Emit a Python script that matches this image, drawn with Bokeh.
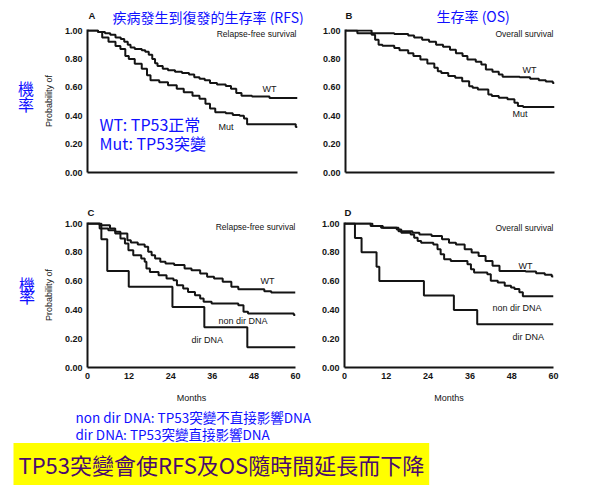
from bokeh.plotting import figure
from bokeh.models import Label, Range1d, FixedTicker, NumeralTickFormatter
from bokeh.layouts import column, row
from bokeh.embed import file_html
from bokeh.resources import INLINE

# ---------------- data (months, survival probability) ----------------
MONTH_TICKS = [0, 12, 24, 36, 48, 60]
PROB_TICKS = [0.0, 0.2, 0.4, 0.6, 0.8, 1.0]

# A: relapse-free survival, WT vs Mut
A_WT_t = [0, 3, 5, 6.5, 8, 9.5, 10.5, 11.5, 12.3, 13.5, 15.5, 16.5, 17.5, 18.5, 19.3, 20, 21.5, 23, 25, 27, 29, 30.5, 32, 33.5, 35, 37, 39.5, 41, 42.5, 44, 47, 52, 60]
A_WT_s = [1.0, 0.99, 0.98, 0.97, 0.95, 0.94, 0.92, 0.90, 0.88, 0.87, 0.86, 0.85, 0.83, 0.80, 0.77, 0.75, 0.73, 0.72, 0.71, 0.70, 0.69, 0.67, 0.66, 0.65, 0.63, 0.62, 0.61, 0.59, 0.56, 0.54, 0.535, 0.525, 0.525]
A_MUT_t = [0, 3, 4.2, 6, 8, 9.4, 10.8, 11.8, 13.5, 15.5, 17, 18, 20.5, 23, 25.5, 27.5, 30, 32, 33.7, 35, 36.5, 39.5, 41.5, 43.5, 44.7, 45.6, 59.5, 60]
A_MUT_s = [1.0, 0.99, 0.95, 0.92, 0.89, 0.87, 0.82, 0.80, 0.765, 0.73, 0.685, 0.65, 0.635, 0.615, 0.59, 0.565, 0.54, 0.52, 0.485, 0.45, 0.425, 0.418, 0.405, 0.40, 0.38, 0.34, 0.32, 0.32]

# B: overall survival, WT vs Mut
B_WT_t = [0, 3.4, 14, 18, 19.7, 22, 24, 26, 28, 30, 31.7, 33.6, 35, 37.4, 39, 40.3, 42.2, 44, 45.1, 50, 53, 55.5, 57.5, 59.5, 60]
B_WT_s = [1.0, 0.98, 0.975, 0.965, 0.95, 0.935, 0.92, 0.90, 0.885, 0.865, 0.84, 0.82, 0.795, 0.78, 0.76, 0.725, 0.71, 0.69, 0.675, 0.67, 0.66, 0.65, 0.64, 0.63, 0.63]
B_MUT_t = [0, 7.5, 8.5, 9.5, 10.6, 14, 15.5, 18, 19.5, 21.5, 23.5, 25.5, 26.5, 27.5, 29.5, 31.5, 33.5, 35.5, 36.5, 38, 41, 42, 44, 46.5, 48.5, 49.5, 51, 60]
B_MUT_s = [1.0, 0.97, 0.935, 0.90, 0.893, 0.876, 0.86, 0.84, 0.82, 0.795, 0.767, 0.737, 0.713, 0.70, 0.68, 0.667, 0.643, 0.608, 0.597, 0.585, 0.55, 0.538, 0.527, 0.515, 0.492, 0.469, 0.462, 0.462]

# C: relapse-free survival, WT / non dir DNA / dir DNA
C_WT_t = [0, 3.5, 6.5, 8, 9.5, 11.5, 12.5, 14.5, 16.5, 17.5, 18.5, 19.5, 21, 22.5, 25, 28, 30, 32.5, 34.5, 36.5, 39, 41.5, 43.5, 51, 53, 60]
C_WT_s = [1.0, 0.988, 0.965, 0.942, 0.931, 0.884, 0.868, 0.854, 0.838, 0.803, 0.78, 0.757, 0.734, 0.722, 0.711, 0.688, 0.676, 0.653, 0.63, 0.618, 0.595, 0.56, 0.544, 0.53, 0.52, 0.52]
C_ND_t = [0, 3.5, 6, 8, 9.5, 10.8, 11.8, 13.2, 15.5, 16.5, 17, 18, 20.5, 22.8, 24.8, 25.8, 27.6, 29, 31, 32.5, 33.5, 35.8, 43.5, 45, 46.3, 59.5, 60]
C_ND_s = [1.0, 0.965, 0.954, 0.931, 0.896, 0.861, 0.815, 0.78, 0.757, 0.734, 0.688, 0.664, 0.641, 0.618, 0.606, 0.572, 0.549, 0.525, 0.502, 0.479, 0.456, 0.444, 0.433, 0.387, 0.375, 0.365, 0.365]
C_DIR_t = [0, 4.0, 5.7, 11.9, 24.5, 33.7, 46.1, 60]
C_DIR_s = [1.0, 0.89, 0.67, 0.56, 0.42, 0.28, 0.14, 0.14]

# D: overall survival, WT / non dir DNA / dir DNA
D_WT_t = [0, 7.5, 11, 15.5, 19.5, 21.5, 25, 28, 30, 32, 34.5, 36.5, 38.5, 40.5, 42.5, 44.5, 52, 55, 57.5, 59.5, 60]
D_WT_s = [1.0, 0.982, 0.97, 0.947, 0.936, 0.924, 0.913, 0.89, 0.867, 0.855, 0.821, 0.798, 0.775, 0.74, 0.706, 0.671, 0.666, 0.655, 0.645, 0.632, 0.632]
D_ND_t = [0, 8, 10.5, 15, 16.3, 19, 20, 21, 22, 25.5, 26.7, 27.6, 28.6, 30.5, 35.3, 36.3, 37.2, 41, 42, 44, 46, 47.8, 48.8, 50.2, 51.2, 60]
D_ND_s = [1.0, 0.982, 0.97, 0.959, 0.936, 0.924, 0.901, 0.878, 0.867, 0.855, 0.821, 0.786, 0.752, 0.74, 0.717, 0.683, 0.66, 0.648, 0.602, 0.591, 0.568, 0.556, 0.545, 0.522, 0.494, 0.494]
D_DIR_t = [0, 3.0, 4.9, 9.2, 10.0, 22.8, 31.4, 38.1, 60]
D_DIR_s = [1.0, 0.9, 0.8, 0.7, 0.6, 0.5, 0.4, 0.3, 0.3]

# ---------------- styling ----------------
FONT = "Liberation Sans"
CJK = "Noto Sans CJK TC"
BLUE = "#1010ff"
INK = "#141414"
YMAX = 1.007


def text_fig(x0, y0, w, h):
    """A plain text strip whose data coordinates equal page pixels."""
    f = figure(width=w, height=h, x_range=Range1d(x0, x0 + w), y_range=Range1d(y0 + h, y0),
               x_axis_type=None, y_axis_type=None, output_backend="svg",
               toolbar_location=None, min_border=0)
    f.outline_line_color = None
    f.grid.visible = False
    return f


def put(f, x, y, text, size, font=CJK, color=BLUE, style="normal", align="left", **kw):
    f.add_layout(Label(x=x, y=y, text=text, text_font=font, text_font_size=size,
                       text_color=color, text_font_style=style, text_align=align,
                       text_baseline="middle", **kw))


class Panel:
    def __init__(self, ox, oy, w, h, bl, br, bt, bb, show_x, ylabel, tag=None):
        self.fx0, self.fx1 = ox + bl, ox + w - br
        self.fy0, self.fy1 = oy + bt, oy + h - bb
        p = figure(width=w, height=h, x_range=Range1d(0, 60), y_range=Range1d(0, YMAX),
                   output_backend="svg", toolbar_location=None,
                   min_border_left=bl, min_border_right=br,
                   min_border_top=bt, min_border_bottom=bb)
        p.outline_line_color = None
        p.grid.visible = False
        p.xaxis.ticker = FixedTicker(ticks=MONTH_TICKS if show_x else [])
        p.yaxis.ticker = FixedTicker(ticks=PROB_TICKS)
        p.yaxis.formatter = NumeralTickFormatter(format="0.00")
        for ax in (p.xaxis[0], p.yaxis[0]):
            ax.axis_line_width = 2
            ax.axis_line_color = INK
            ax.major_tick_in = 0
            ax.major_tick_out = 0
            ax.minor_tick_line_color = None
            ax.major_tick_line_color = None
            ax.major_label_text_font = FONT
            ax.major_label_text_font_style = "bold"
            ax.major_label_text_font_size = "9px"
            ax.major_label_text_color = INK
            ax.major_label_standoff = 5
            ax.axis_label_text_font = FONT
            ax.axis_label_text_font_style = "normal"
            ax.axis_label_text_font_size = "9px"
            ax.axis_label_text_color = INK
        if show_x:
            p.xaxis.axis_label = "Months"
            p.xaxis.axis_label_standoff = 11
        if ylabel:
            p.yaxis.axis_label = ylabel
            p.yaxis.axis_label_standoff = 8
        if tag:
            p.title.text = tag
            p.title.text_font = FONT
            p.title.text_font_size = "9.5px"
            p.title.text_font_style = "bold"
            p.title.text_color = INK
            p.title.align = "left"
            p.title.standoff = 9
        self.p = p

    def label(self, px, py, text, size="9px", font=FONT, color=INK, style="normal", align="left"):
        x = (px - self.fx0) / (self.fx1 - self.fx0) * 60
        y = (self.fy1 - py) / (self.fy1 - self.fy0) * YMAX
        put(self.p, x, y, text, size, font=font, color=color, style=style, align=align)

    def curve(self, t, s):
        self.p.step(t, s, mode="after", line_width=2, line_color=INK)


# ---- top strip: panel letters and blue headings ----
T = text_fig(0, 0, 600, 25)
put(T, 88, 14.5, "A", "9.5px", font=FONT, color=INK, style="bold")
put(T, 112, 16, "疾病發生到復發的生存率 (RFS)", "14px")
put(T, 345, 14.5, "B", "9.5px", font=FONT, color=INK, style="bold")
put(T, 436, 15.5, "生存率 (OS)", "14px")

# ---- side strips: 機率 ----
S1 = text_fig(0, 25, 40, 165)
put(S1, 25.5, 92.5, "機", "16px", align="center")
put(S1, 25.5, 110.5, "率", "16px", align="center")
S2 = text_fig(0, 190, 40, 215)
put(S2, 26.5, 281.5, "機", "16px", align="center")
put(S2, 26.5, 298.5, "率", "16px", align="center")

# ---- panel A ----
A = Panel(40, 25, 272, 165, 47, 15, 4, 18, False, "Probability of")
A.curve(A_WT_t, A_WT_s)
A.curve(A_MUT_t, A_MUT_s)
A.label(296, 33, "Relapse-free survival", size="8.5px", align="right")
A.label(262, 88, "WT")
A.label(218, 126.5, "Mut")
A.label(99, 123, "WT: TP53正常", size="16px", font=CJK, color=BLUE)
A.label(99, 142.5, "Mut: TP53突變", size="16px", font=CJK, color=BLUE)

# ---- panel B ----
B = Panel(312, 25, 288, 165, 33, 46, 4, 18, False, None)
B.curve(B_WT_t, B_WT_s)
B.curve(B_MUT_t, B_MUT_s)
B.label(553, 33, "Overall survival", size="8.5px", align="right")
B.label(522, 69.5, "WT")
B.label(512, 113.5, "Mut")

# ---- panel C ----
C = Panel(40, 190, 272, 215, 47, 17, 32, 38, True, "Probability of", tag="C")
C.curve(C_WT_t, C_WT_s)
C.curve(C_ND_t, C_ND_s)
C.curve(C_DIR_t, C_DIR_s)
C.label(295, 226, "Relapse-free survival", size="8.5px", align="right")
C.label(260, 280.5, "WT")
C.label(218, 320.5, "non dir DNA")
C.label(191, 339.5, "dir DNA")

# ---- panel D ----
D = Panel(312, 190, 288, 215, 32, 47, 32, 38, True, None, tag="D")
D.curve(D_WT_t, D_WT_s)
D.curve(D_ND_t, D_ND_s)
D.curve(D_DIR_t, D_DIR_s)
D.label(553, 227, "Overall survival", size="8.5px", align="right")
D.label(518, 265, "WT")
D.label(492, 307, "non dir DNA")
D.label(512, 336, "dir DNA")

# ---- bottom notes + banner ----
E = text_fig(0, 405, 600, 87)
put(E, 75, 416, "non dir DNA: TP53突變不直接影響DNA", "13.5px")
put(E, 75, 433.5, "dir DNA: TP53突變直接影響DNA", "13.5px")
put(E, 13, 463.5, "TP53突變會使RFS及OS隨時間延長而下降", "22px", color="#4a0a6e",
    background_fill_color="#ffff00", padding=5)

layout = column(row(T), row(S1, A.p, B.p), row(S2, C.p, D.p), row(E))
open("out.html", "w").write(file_html(layout, INLINE))
